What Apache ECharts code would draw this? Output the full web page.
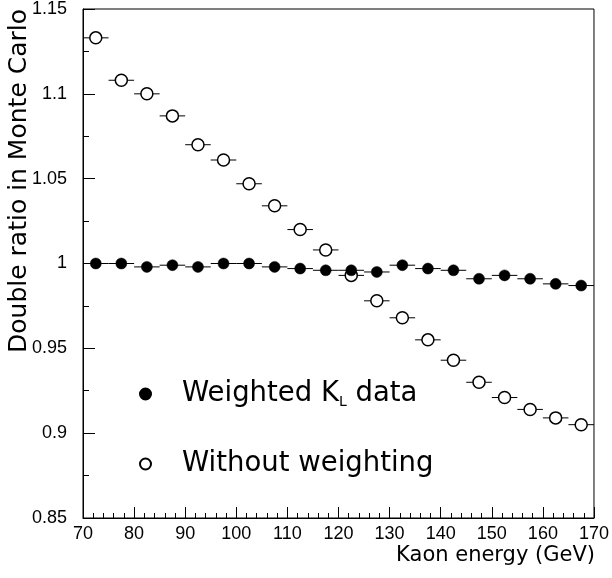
<!DOCTYPE html>
<html>
<head>
<meta charset="utf-8">
<script src="https://cdn.jsdelivr.net/npm/echarts@6/dist/echarts.min.js"></script>
<style>
html,body{margin:0;padding:0;background:#fff;}
#chart{width:612px;height:578px;}
</style>
</head>
<body>
<div id="chart"></div>
<script>
// ---- data ----
const energy = [72.5, 77.5, 82.5, 87.5, 92.5, 97.5, 102.5, 107.5, 112.5, 117.5,
                122.5, 127.5, 132.5, 137.5, 142.5, 147.5, 152.5, 157.5, 162.5, 167.5];
const weighted = [1.000, 1.000, 0.998, 0.999, 0.998, 1.000, 1.000, 0.998, 0.997, 0.996,
                  0.996, 0.995, 0.999, 0.997, 0.996, 0.991, 0.993, 0.991, 0.988, 0.987];
const unweighted = [1.133, 1.108, 1.100, 1.087, 1.070, 1.061, 1.047, 1.034, 1.020, 1.008,
                    0.993, 0.978, 0.968, 0.955, 0.943, 0.930, 0.921, 0.914, 0.909, 0.905];
const binHalfWidth = [2.5, 2.5, 2.5, 2.5, 2.5, 2.5, 2.5, 2.5, 2.5, 2.5,
                      2.5, 2.5, 2.5, 2.5, 2.5, 2.5, 2.5, 2.5, 2.5, 2.5];
const xTicks = [70, 80, 90, 100, 110, 120, 130, 140, 150, 160, 170];
const yTicks = ['0.85', '0.9', '0.95', '1', '1.05', '1.1', '1.15'];
const nameWeighted = 'Weighted K_L data';
const nameUnweighted = 'Without weighting';
const xTitle = 'Kaon energy (GeV)';
const yTitle = 'Double ratio in Monte Carlo';

const TICK_FONT = 'Liberation Sans';
const TITLE_FONT = 'DejaVu Sans';

function pts(ys) { return energy.map((x, i) => [x, ys[i], binHalfWidth[i]]); }

function errRender(params, api) {
  const x = api.value(0), y = api.value(1), e = api.value(2);
  const p1 = api.coord([x - e, y]);
  const p2 = api.coord([x + e, y]);
  return {
    type: 'line',
    shape: { x1: p1[0], y1: p1[1], x2: p2[0], y2: p2[1] },
    style: { stroke: '#000', lineWidth: 1 }
  };
}

const chart = echarts.init(document.getElementById('chart'), null, { renderer: 'canvas' });
const option = {
  animation: false,
  backgroundColor: '#fff',
  grid: { left: 83, right: 17, top: 9, bottom: 60, show: true, borderColor: '#000', borderWidth: 1, backgroundColor: 'transparent' },
  xAxis: {
    type: 'value', min: xTicks[0], max: xTicks[xTicks.length - 1], interval: 10,
    axisLine: { show: true, onZero: false, lineStyle: { color: '#000', width: 1 } },
    axisTick: { show: true, inside: true, length: 11, lineStyle: { color: '#000', width: 1 } },
    minorTick: { show: true, splitNumber: 5, length: 5, lineStyle: { color: '#000', width: 1 } },
    splitLine: { show: false },
    axisLabel: { color: '#000', fontSize: 18, fontFamily: TICK_FONT, margin: 7,
      formatter: v => String(Math.round(v)) }
  },
  yAxis: {
    type: 'value', min: 0.85, max: 1.15, interval: 0.05,
    axisLine: { show: true, onZero: false, lineStyle: { color: '#000', width: 1 } },
    axisTick: { show: true, inside: true, length: 12, lineStyle: { color: '#000', width: 1 } },
    minorTick: { show: true, splitNumber: 2, length: 6, lineStyle: { color: '#000', width: 1 } },
    splitLine: { show: false },
    axisLabel: { color: '#000', fontSize: 18, fontFamily: TICK_FONT, margin: 16,
      formatter: v => { const s = String(parseFloat(v.toFixed(2))); return yTicks.indexOf(s) >= 0 ? s : ''; } }
  },
  legend: {
    orient: 'vertical', left: 134, top: 374, itemGap: 40,
    itemWidth: 11, itemHeight: 11, selectedMode: false,
    data: [nameWeighted, nameUnweighted],
    formatter: n => n === nameWeighted ? 'Weighted K{sub|L} data' : n,
    textStyle: {
      color: '#000', fontSize: 27.5, fontFamily: TITLE_FONT, lineHeight: 30, padding: [0, 0, 0, 26],
      rich: { sub: { fontSize: 14, fontFamily: TITLE_FONT, color: '#000', verticalAlign: 'bottom', padding: [12, 0, 0, 0] } }
    }
  },
  series: [
    { type: 'custom', name: 'unweighted-err', data: pts(unweighted), renderItem: errRender, z: 2, silent: true },
    { type: 'scatter', name: nameUnweighted, data: pts(unweighted), symbol: 'circle', symbolSize: 12,
      itemStyle: { color: '#fff', borderColor: '#000', borderWidth: 1.5, opacity: 1 }, z: 3 },
    { type: 'custom', name: 'weighted-err', data: pts(weighted), renderItem: errRender, z: 4, silent: true },
    { type: 'scatter', name: nameWeighted, data: pts(weighted), symbol: 'circle', symbolSize: 11,
      itemStyle: { color: '#000', borderColor: '#000', borderWidth: 0.5, opacity: 1 }, z: 5 }
  ],
  graphic: [
    { type: 'text', x: 595, y: 556, style: { text: xTitle, fill: '#000', font: '21px "' + TITLE_FONT + '"', align: 'right', verticalAlign: 'middle' } },
    { type: 'text', x: 19, y: 9, rotation: Math.PI / 2, style: { text: yTitle, fill: '#000', font: '25px "' + TITLE_FONT + '"', align: 'right', verticalAlign: 'middle' } }
  ]
};
chart.setOption(option);
</script>
</body>
</html>
